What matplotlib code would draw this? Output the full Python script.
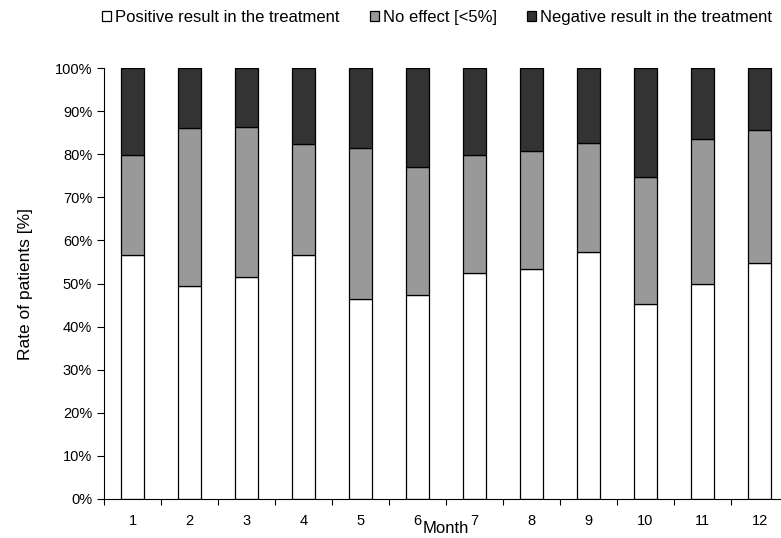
import matplotlib
matplotlib.use('Agg')
import matplotlib.pyplot as plt
import numpy as np
from matplotlib.ticker import FixedLocator, PercentFormatter

plt.rcParams['font.family'] = ['Liberation Sans', 'DejaVu Sans']

months = ['1', '2', '3', '4', '5', '6', '7', '8', '9', '10', '11', '12']
# cumulative boundaries (%)
positive = [56.6, 49.5, 51.4, 56.5, 46.5, 47.3, 52.5, 53.4, 57.2, 45.2, 49.9, 54.7]
pos_plus_none = [79.9, 86.0, 86.4, 82.4, 81.4, 77.1, 79.8, 80.7, 82.7, 74.6, 83.6, 85.5]

positive = np.array(positive)
no_effect = np.array(pos_plus_none) - positive
negative = 100 - np.array(pos_plus_none)

labels = ['Positive result in the treatment', 'No effect [<5%]', 'Negative result in the treatment']
colors = ['white', '#999999', '#333333']

fig = plt.figure(figsize=(7.81, 5.38), dpi=100)
ax = fig.add_axes([104 / 781, 39 / 538, 684 / 781, 431 / 538])

x = np.arange(len(months)) + 0.5
w = 0.4
bottom = np.zeros(len(months))
for vals, lab, col in zip([positive, no_effect, negative], labels, colors):
    ax.bar(x, vals, w, bottom=bottom, color=col, edgecolor='black', linewidth=0.9, label=lab)
    bottom += vals

ax.set_xlim(0, 12)
ax.set_ylim(0, 100)
ax.set_yticks(np.arange(0, 101, 10))
ax.yaxis.set_major_formatter(PercentFormatter(decimals=0))
ax.set_xticks(x)
ax.set_xticklabels(months)
ax.xaxis.set_minor_locator(FixedLocator(np.arange(0, 13)))
ax.tick_params(axis='x', which='major', length=0, pad=11, labelsize=10.5)
ax.tick_params(axis='x', which='minor', length=4, direction='out', width=0.8)
ax.tick_params(axis='y', length=5, direction='out', width=0.8, labelsize=10.5)

for s in ['top', 'right']:
    ax.spines[s].set_visible(False)
ax.spines['left'].set_linewidth(0.8)
ax.spines['bottom'].set_linewidth(0.8)

ax.set_ylabel('Rate of patients [%]', fontsize=12.5)
ax.yaxis.set_label_coords(-0.104, 0.5)
ax.set_xlabel('Month', fontsize=12)
ax.xaxis.set_label_coords(0.5, -0.052)

fig.legend(loc='center', bbox_to_anchor=(0.5596, 0.968), ncol=3, frameon=False,
           fontsize=12, handlelength=0.55, handleheight=0.55, handletextpad=0.25,
           columnspacing=1.8, borderaxespad=0)

fig.savefig('out.png', dpi=100)
